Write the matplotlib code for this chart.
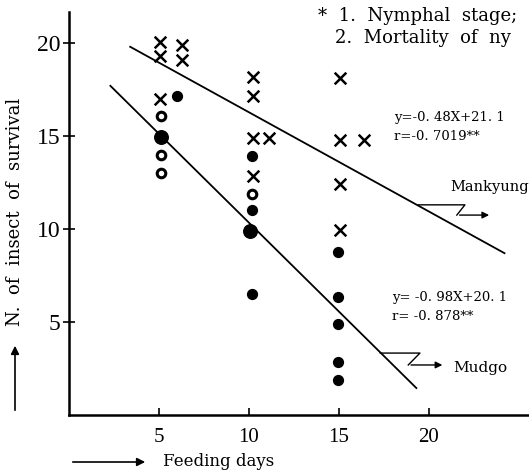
import matplotlib.pyplot as plt
from matplotlib.patches import FancyArrowPatch

# Mankyung (crosses)
mank_x = [5.05, 5.05, 5.05, 6.3, 6.3, 10.2, 10.2, 10.2, 11.1, 10.2, 15.05, 15.05, 16.4, 15.05, 15.05]
mank_y = [20.05, 19.3, 17.0, 19.9, 19.1, 18.2, 17.15, 14.9, 14.9, 12.85, 18.1, 14.8, 14.8, 12.4, 9.95]

# Mudgo (circles): hollow-looking and solid ones
mudgo_hollow_x = [5.1, 5.1, 5.1, 10.15]
mudgo_hollow_y = [16.1, 14.0, 13.0, 11.9]
mudgo_solid_x = [6.0, 10.15, 10.15, 10.15, 14.95, 14.95, 14.95, 14.95, 14.95]
mudgo_solid_y = [17.15, 13.9, 11.0, 6.5, 8.75, 6.35, 4.9, 2.85, 1.9]
mudgo_big_x = [5.1, 10.05]
mudgo_big_y = [14.95, 9.9]

# regression lines as drawn
mank_line_x = [3.4, 24.2]
mank_line_y = [19.8, 8.7]
mudgo_line_x = [2.3, 19.3]
mudgo_line_y = [17.7, 1.45]

xticks = [5, 10, 15, 20]
yticks = [5, 10, 15, 20]

plt.rcParams['font.family'] = ['Liberation Serif', 'DejaVu Serif']
SERIF2 = ['DejaVu Serif']

W, H = 529, 471
fig = plt.figure(figsize=(W / 100, H / 100), dpi=100)
ax = fig.add_axes([69 / W, (H - 415) / H, (W - 69) / W, (415 - 12) / H])
ax.set_xlim(0, 25.56)
ax.set_ylim(0, 21.67)

ax.plot(mank_line_x, mank_line_y, color='black', lw=1.3)
ax.plot(mudgo_line_x, mudgo_line_y, color='black', lw=1.3)

ax.scatter(mank_x, mank_y, marker='x', s=70, color='black', linewidths=1.8, zorder=3)
ax.scatter(mudgo_hollow_x, mudgo_hollow_y, marker='o', s=38, facecolor='white',
           edgecolor='black', linewidths=2.2, zorder=3)
ax.scatter(mudgo_solid_x, mudgo_solid_y, marker='o', s=50, color='black', zorder=3)
ax.scatter(mudgo_big_x, mudgo_big_y, marker='o', s=95, color='black', zorder=3)

# zigzag pointers to the line labels
ax.plot([19.4, 22.0, 21.55], [11.3, 11.3, 10.75], color='black', lw=1.0, clip_on=False)
ax.annotate('', xy=(23.5, 10.75), xytext=(21.55, 10.75),
            arrowprops=dict(arrowstyle='-|>', color='black', lw=1.0, mutation_scale=10),
            annotation_clip=False)
ax.plot([17.3, 19.5, 18.85], [3.33, 3.33, 2.69], color='black', lw=1.0, clip_on=False)
ax.annotate('', xy=(20.9, 2.69), xytext=(18.85, 2.69),
            arrowprops=dict(arrowstyle='-|>', color='black', lw=1.0, mutation_scale=10),
            annotation_clip=False)

for s in ['top', 'right']:
    ax.spines[s].set_visible(False)
for s in ['left', 'bottom']:
    ax.spines[s].set_linewidth(1.8)

ax.set_xticks(xticks)
ax.set_yticks(yticks)
ax.tick_params(axis='x', direction='in', length=5, width=1.2, labelsize=15, pad=9)
ax.tick_params(axis='y', direction='inout', length=8, width=1.2, labelsize=17, pad=2)


def ftext(x, y, s, va='center', **kw):
    fig.text(x / W, 1 - y / H, s, va=va, family=SERIF2, **kw)


# header notes (cut at the right edge in the original scan)
ftext(318, 21, '*  1.  Nymphal  stage;', va='baseline', fontsize=13)
ftext(335, 43, '2.  Mortality  of  ny', va='baseline', fontsize=13)
ftext(394, 117, 'y=-0. 48X+21. 1', fontsize=9.5)
ftext(394, 137, 'r=-0. 7019**', fontsize=9.5)
ftext(450, 187, 'Mankyung', fontsize=10.5)
ftext(392, 298, 'y= -0. 98X+20. 1', fontsize=9.5)
ftext(392, 316, 'r= -0. 878**', fontsize=9.5)
ftext(453, 368, 'Mudgo', fontsize=11)

ftext(163, 461, 'Feeding days', fontsize=12)
fig.text(15 / W, 1 - 212 / H, 'N.  of  insect  of  survival', rotation=90,
         ha='center', va='center', fontsize=13, family=SERIF2)

fig.patches.append(FancyArrowPatch(
    (70 / W, 1 - 462 / H), (148 / W, 1 - 462 / H), transform=fig.transFigure,
    arrowstyle='-|>', mutation_scale=12, color='black', lw=1.2))
fig.patches.append(FancyArrowPatch(
    (15 / W, 1 - 413 / H), (15 / W, 1 - 343 / H), transform=fig.transFigure,
    arrowstyle='-|>', mutation_scale=12, color='black', lw=1.2))

fig.savefig('out.png', dpi=100)
